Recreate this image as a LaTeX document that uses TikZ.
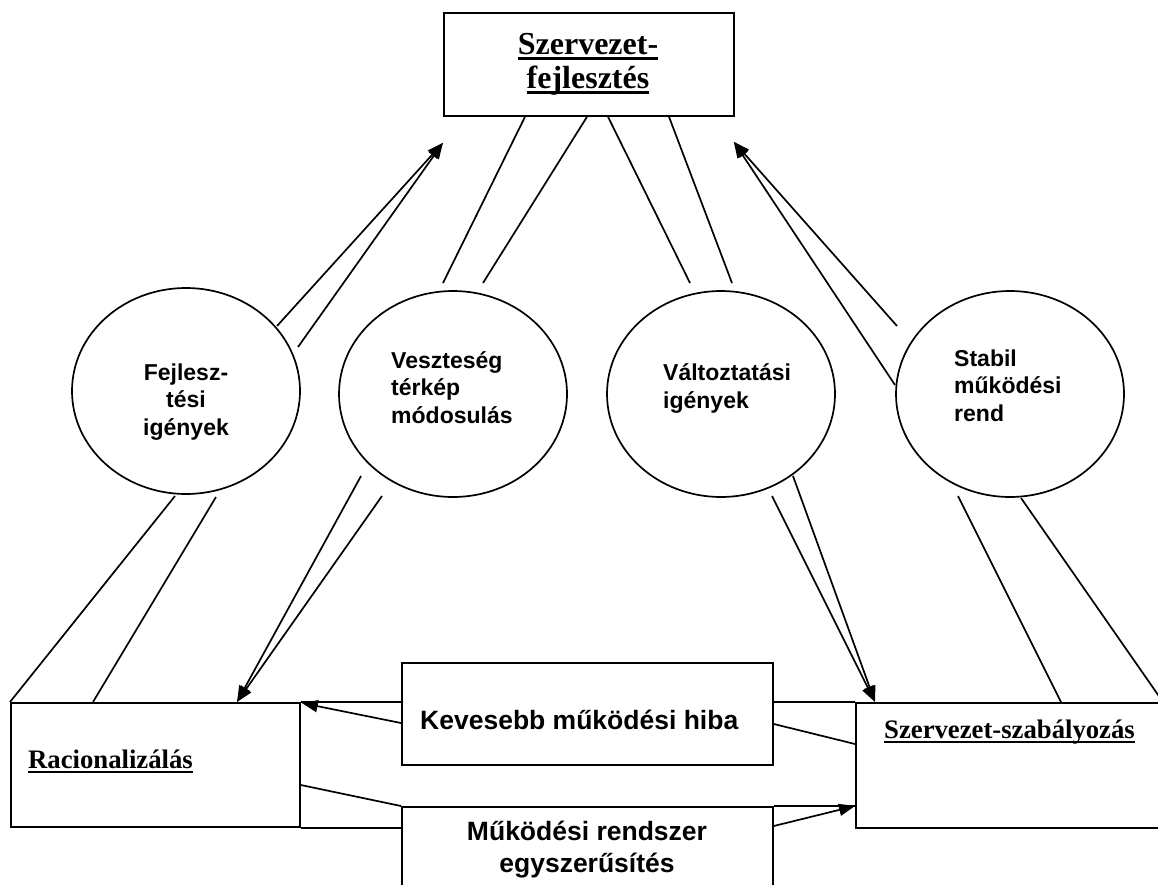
\documentclass[tikz,border=0pt]{standalone}
\usepackage{fontspec}
\setmainfont{Liberation Serif}
\newfontfamily\arialfam{Liberation Sans}
\usetikzlibrary{shapes.geometric,arrows.meta,calc}
% thick underline set at a fixed depth below the baseline
\newcommand\ulbar[1]{\leavevmode\setbox0\hbox{#1}\rlap{\rule[-5pt]{\wd0}{2.5pt}}\box0}
\tikzset{
  frame/.style={draw, line width=1.8pt, rectangle, inner sep=0pt, anchor=north west},
  bubble/.style={draw, line width=1.7pt, ellipse, inner sep=0pt, minimum width=228pt, minimum height=206pt},
  link/.style={line width=1.7pt},
  push/.style={line width=1.7pt, -{Triangle[length=16pt,width=12pt]}},
  titlelbl/.style={font=\bfseries\fontsize{32}{34}\selectfont, inner sep=0pt, align=center, anchor=base},
  boxlbl/.style={font=\arialfam\bfseries\fontsize{26.5}{32}\selectfont, inner sep=0pt},
  bubblelbl/.style={font=\arialfam\bfseries\fontsize{23}{27.5}\selectfont, inner sep=0pt},
  serlbl/.style={font=\bfseries\fontsize{26.7}{30}\selectfont, inner sep=0pt, anchor=base west},
}
\begin{document}
\begin{tikzpicture}[x=1pt,y=-1pt]
\path[use as bounding box, fill=white] (0,0) rectangle (1158,885);
\clip (0,0) rectangle (1158,885);

% boxes
\node[frame, minimum width=290pt, minimum height=103pt] (fejl) at (443,12) {};
\node[frame, minimum width=289pt, minimum height=124pt] (rac) at (10,702) {};
\node[frame, minimum width=371pt, minimum height=102pt] (kev) at (401,662) {};
\node[frame, minimum width=371pt, minimum height=100pt] (mrs) at (401,806) {};
\node[frame, minimum width=330pt, minimum height=125pt] (szab) at (855,702) {};

% bubbles
\node[bubble] (b1) at (186,391) {};
\node[bubble] (b2) at (453,394) {};
\node[bubble] (b3) at (721,394) {};
\node[bubble] (b4) at (1010,394) {};

% labels (multi-line labels are placed by the baseline of their last line)
\node[titlelbl] (fejlT) at (588,89) {\ulbar{Szervezet-}\\\ulbar{fejlesztés}};
\node[serlbl] (racT) at (28,768) {\ulbar{Racionalizálás}};
\node[serlbl] (szabT) at (884,738) {\ulbar{Szervezet-szabályozás}};
\node[boxlbl, anchor=base west] (kevT) at (420,729) {Kevesebb működési hiba};
\node[boxlbl, align=center, anchor=base] (mrsT) at (587,872) {Működési rendszer\\egyszerűsítés};
\node[bubblelbl, align=center, anchor=base] (b1T) at (186,435) {Fejlesz-\\tési\\igények};
\node[bubblelbl, align=left, anchor=base west] (b2T) at (391,423) {Veszteség\\térkép\\módosulás};
\node[bubblelbl, align=left, anchor=base west] (b3T) at (663,408) {Változtatási\\igények};
\node[bubblelbl, align=left, anchor=base west] (b4T) at (954,421) {Stabil\\működési\\rend};

% free ends of the connectors near the bubbles
\coordinate (t1) at (443,283);
\coordinate (t2) at (483,283);
\coordinate (t3) at (690,283);
\coordinate (t4) at (732,283);
\coordinate (a1) at (277,326);
\coordinate (a2) at (298,347);
\coordinate (a3) at (897,326);
\coordinate (a4) at (895,385);
\coordinate (c1) at (175,496);
\coordinate (c2) at (216,497);
\coordinate (c3) at (361,476);
\coordinate (c4) at (382,496);
\coordinate (c5) at (793,476);
\coordinate (c6) at (772,496);
\coordinate (c7) at (958,496);
\coordinate (c8) at (1021,498);

% top box to the middle bubbles
\draw[link] ($(fejl.south west)+(82,0)$) -- (t1);
\draw[link] ($(fejl.south west)+(144,0)$) -- (t2);
\draw[link] ($(fejl.south west)+(165,0)$) -- (t3);
\draw[link] ($(fejl.south west)+(226,0)$) -- (t4);

% outer bubbles up to the top box
\draw[push] (a1) -- ($(fejl.south west)+(0,26)$);
\draw[push] (a2) -- ($(fejl.south west)+(0,26)$);
\draw[push] (a3) -- ($(fejl.south east)+(-1,25)$);
\draw[push] (a4) -- ($(fejl.south east)+(-1,25)$);

% bubbles down to the lower boxes
\draw[link] (c1) -- (rac.north west);
\draw[link] (c2) -- ($(rac.north west)+(83,0)$);
\draw[push] (c3) -- ($(rac.north west)+(227,0)$);
\draw[push] (c4) -- ($(rac.north west)+(227,0)$);
\draw[push] (c5) -- ($(szab.north west)+(20,0)$);
\draw[push] (c6) -- ($(szab.north west)+(20,0)$);
\draw[link] (c7) -- ($(szab.north west)+(206,0)$);
\draw[link] (c8) -- ($(szab.north west)+(308,0)$);

% links along the bottom row
\draw[link] (rac.north east) -- (kev.west |- rac.north);
\draw[link] (kev.east |- szab.north) -- (szab.north west);
\draw[link] (rac.south east) -- (mrs.west |- rac.south);
\draw[link] (mrs.north east) -- (mrs.north east -| szab.west);
\draw[push] ($(kev.north west)+(0,61)$) -- ($(rac.north east)+(1,1)$);
\draw[link] ($(kev.north east)+(0,62)$) -- ($(szab.north west)+(0,42)$);
\draw[link] ($(rac.north east)+(0,83)$) -- (mrs.north west);
\draw[push] ($(mrs.north east)+(0,20)$) -- ($(szab.north west)+(0,104)$);
\end{tikzpicture}
\end{document}
